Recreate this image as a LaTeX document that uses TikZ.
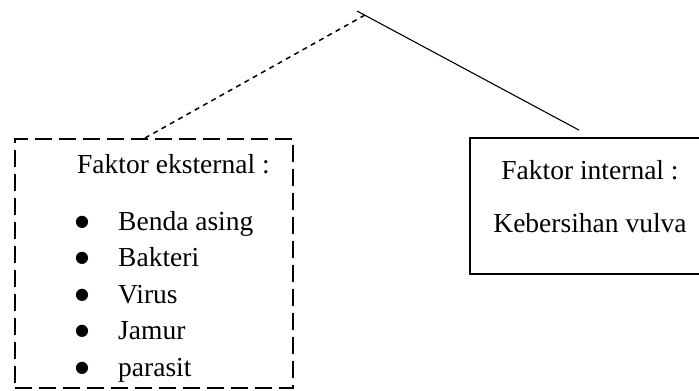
\documentclass[tikz,border=0pt]{standalone}
\usepackage{fontspec}
\setmainfont{Liberation Serif}
\newfontfamily\bulfont{DejaVu Sans}
\usepackage{tikz}
\usetikzlibrary{positioning,calc}

\begin{document}
\begin{tikzpicture}[x=1pt, y=-1pt, every node/.style={font=\fontsize{27.5}{33}\selectfont, inner sep=0pt},
    dashbox/.style={draw, line width=2pt, dash pattern=on 17pt off 7pt},
    solidbox/.style={draw, line width=1.8pt},
    bul/.style={anchor=base, font=\bulfont\fontsize{16}{16}\selectfont}]
    \useasboundingbox (0,0) rectangle (699,391);

    % Factor boxes
    \node[dashbox, minimum width=278pt, minimum height=249pt] (ext) at (154,263.5) {};
    \node[solidbox, minimum width=240pt, minimum height=136pt] (int) at (590,206) {};

    % Top point
    \coordinate (apex) at (365,15);
    \coordinate (tip) at (357,11);

    % Connectors
    \draw[line width=1.5pt, dash pattern=on 5pt off 4.5pt] ([xshift=-9pt]ext.north) -- (apex);
    \draw[line width=1.1pt] (tip) -- ([xshift=-11pt, yshift=7pt]int.north);

    % External factors
    \node[anchor=base west] (exttitle) at (77,173) {Faktor eksternal :};
    \node[bul] (b1) at (82,226) {●};
    \node[anchor=base west] (i1) at (118,230) {Benda asing};
    \node[bul] (b2) at (82,262.5) {●};
    \node[anchor=base west] (i2) at (118,266.5) {Bakteri};
    \node[bul] (b3) at (82,299) {●};
    \node[anchor=base west] (i3) at (118,303) {Virus};
    \node[bul] (b4) at (82,335.5) {●};
    \node[anchor=base west] (i4) at (118,339.5) {Jamur};
    \node[bul] (b5) at (82,372) {●};
    \node[anchor=base west] (i5) at (118,376) {parasit};

    % Internal factors
    \node[anchor=base] (inttitle) at (590,179) {Faktor internal :};
    \node[anchor=base] (intitem) at (590,232) {Kebersihan vulva};
\end{tikzpicture}
\end{document}
